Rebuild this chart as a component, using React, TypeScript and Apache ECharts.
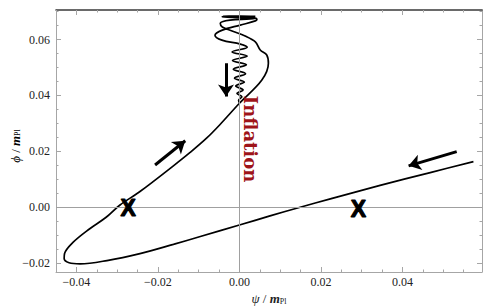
import React, { useEffect, useRef } from 'react';
import * as echarts from 'echarts';

// Trajectory (psi, phi) in units of m_Pl, in order of motion
const lowerBranch: number[][] = [
  [0.0574, 0.0163], [0.0468, 0.0124], [0.0345, 0.0078], [0.0223, 0.003], [0.0149, 0.0],
  [0.0075, -0.0031], [0.0002, -0.0063], [-0.0096, -0.0105], [-0.0162, -0.0133],
  [-0.0244, -0.0166], [-0.0325, -0.0191], [-0.0391, -0.0203],
];
const bottomLoop: number[][] = [
  [-0.0418, -0.0199], [-0.043, -0.0184], [-0.0429, -0.0166], [-0.0409, -0.0127],
  [-0.0368, -0.0078], [-0.0327, -0.0036], [-0.0293, 0.0008],
];
const upperBranch: number[][] = [
  [-0.0244, 0.0056], [-0.0162, 0.0148], [-0.0121, 0.0196], [-0.008, 0.0248], [-0.0047, 0.0297],
  [0.0, 0.0372], [0.0055, 0.0455], [0.0071, 0.0515], [0.0067, 0.0545], [0.0051, 0.0563],
];
const topArc: number[][] = [
  [0.0039, 0.0592], [0.0014, 0.0613], [-0.0018, 0.0631], [-0.0042, 0.0645], [-0.0047, 0.0659],
  [-0.0023, 0.067],
];
const topSpiral: number[][] = [
  [0.0026, 0.0674], [0.0041, 0.0677], [0.0002, 0.0679], [-0.0042, 0.0681], [-0.0003, 0.0683],
  [0.0039, 0.0683], [0.0002, 0.0684], [-0.0042, 0.0683], [0.0014, 0.0679], [0.0043, 0.0674],
  [0.0039, 0.0667],
];
const descent: number[][] = [
  [0.0002, 0.0652], [-0.0042, 0.0634], [-0.006, 0.0616], [-0.0043, 0.0598], [0.0002, 0.0584],
  [0.0019, 0.0573], [-0.0018, 0.0556], [0.0019, 0.0541], [-0.0017, 0.0525], [0.0017, 0.051],
  [-0.0015, 0.0494], [0.0015, 0.0478], [-0.0012, 0.0462], [0.0012, 0.0448], [-0.0009, 0.0434],
  [0.0009, 0.042], [-0.0006, 0.0407], [0.0006, 0.0395], [-0.0002, 0.0383], [0.0, 0.0373],
];

// Arrows (tail -> head)
const arrows: number[][][] = [
  [[0.0533, 0.0199], [0.0415, 0.0148]],
  [[-0.0207, 0.0151], [-0.0133, 0.0238]],
  [[-0.0033, 0.0515], [-0.0033, 0.0396]],
];
// Fixed-point markers
const xMarks: number[][] = [[-0.0273, -0.0004], [0.0292, -0.0006]];
const inflationLabel: number[] = [0.0026, 0.0244];

// Axes
const xRange = [-0.045, 0.0595];
const yRange = [-0.0232, 0.0706];
const xMajor = [-0.04, -0.02, 0, 0.02, 0.04];
const yMajor = [-0.02, 0, 0.02, 0.04, 0.06];
const xMinor = [-0.045, -0.035, -0.03, -0.025, -0.015, -0.01, -0.005, 0.005, 0.01, 0.015, 0.025, 0.03, 0.035, 0.045, 0.05, 0.055];
const yMinor = [-0.015, -0.01, -0.005, 0.005, 0.01, 0.015, 0.025, 0.03, 0.035, 0.045, 0.05, 0.055, 0.065, 0.07];

const fmt = (v: number) => (Math.abs(v) < 1e-9 ? '0.00' : v.toFixed(2).replace('-', '\u2212'));

const FRAME = '#a6a6a6';
const SERIF = '"Liberation Serif", "DejaVu Serif", serif';

export default function App() {
  const ref = useRef<HTMLDivElement>(null);
  useEffect(() => {
    if (!ref.current) return;
    const chart = echarts.init(ref.current, undefined, { renderer: 'svg' });
    const trajectory = [...lowerBranch, ...bottomLoop, ...upperBranch, ...topArc, ...topSpiral, ...descent];
    const nameRich = {
      i: { fontStyle: 'italic', fontFamily: SERIF, fontSize: 13, color: '#222' },
      m: { fontStyle: 'italic', fontWeight: 'bold', fontFamily: SERIF, fontSize: 13, color: '#222' },
      s: { fontFamily: SERIF, fontSize: 8, color: '#222', padding: [5, 0, 0, 0] },
      t: { fontFamily: SERIF, fontSize: 13, color: '#222' },
    };
    const majorAxis = (pos: string, labels: boolean, major: number[], range: number[], isX: boolean) => ({
      type: 'value',
      position: pos,
      offset: 0,
      min: range[0],
      max: range[1],
      axisLine: {
        show: true,
        onZero: false,
        lineStyle: { color: pos === 'top' ? '#3a3a3a' : FRAME, width: pos === 'top' ? 1.6 : 1 },
      },
      axisTick: { show: true, inside: true, length: 5, customValues: major, lineStyle: { color: FRAME } },
      axisLabel: labels
        ? { show: true, customValues: major, formatter: fmt, fontFamily: SERIF, fontSize: 12, color: '#222', margin: isX ? 4 : 6 }
        : { show: false },
      splitLine: { show: false },
    });
    const minorAxis = (pos: string, minor: number[], range: number[]) => ({
      type: 'value',
      position: pos,
      offset: 0,
      min: range[0],
      max: range[1],
      axisLine: { show: false, onZero: false },
      axisTick: { show: true, inside: true, length: 2.5, customValues: minor, lineStyle: { color: FRAME } },
      axisLabel: { show: false },
      splitLine: { show: false },
    });
    chart.setOption({
      animation: false,
      backgroundColor: '#ffffff',
      grid: { left: 56, right: 9, top: 10, bottom: 35, containLabel: false, outerBoundsMode: 'none' },
      graphic: [
        {
          type: 'text',
          x: 15,
          y: 146,
          rotation: Math.PI / 2,
          silent: true,
          style: {
            text: '{i|\u03d5}{t| / }{m|m}{s|Pl}',
            rich: nameRich,
            align: 'center',
            verticalAlign: 'middle',
          },
        },
      ],
      xAxis: [
        {
          ...majorAxis('bottom', true, xMajor, xRange, true),
          name: '{i|\u03c8}{t| / }{m|m}{s|Pl}',
          nameLocation: 'middle',
          nameGap: 20,
          nameMoveOverlap: false,
          nameTextStyle: { rich: nameRich },
        },
        minorAxis('bottom', xMinor, xRange),
        majorAxis('top', false, xMajor, xRange, true),
        minorAxis('top', xMinor, xRange),
      ],
      yAxis: [
        majorAxis('left', true, yMajor, yRange, false),
        minorAxis('left', yMinor, yRange),
        majorAxis('right', false, yMajor, yRange, false),
        minorAxis('right', yMinor, yRange),
      ],
      series: [
        {
          type: 'line',
          data: [[0, 0]],
          symbol: 'none',
          lineStyle: { width: 0 },
          silent: true,
          z: 1,
          markLine: {
            silent: true,
            symbol: ['none', 'none'],
            label: { show: false },
            lineStyle: { color: '#a0a0a0', type: 'solid', width: 1 },
            data: [{ xAxis: 0 }, { yAxis: 0 }],
          },
        },
        {
          type: 'line',
          data: trajectory,
          symbol: 'none',
          smooth: 0.35,
          lineStyle: { color: '#000', width: 1.7 },
          silent: true,
          z: 3,
        },
        {
          type: 'lines',
          coordinateSystem: 'cartesian2d',
          data: arrows.map((a) => ({ coords: a })),
          symbol: ['none', 'arrow'],
          symbolSize: 12,
          lineStyle: { color: '#000', width: 3, opacity: 1, curveness: 0 },
          silent: true,
          z: 4,
        },
        {
          type: 'scatter',
          data: xMarks,
          symbolSize: 1,
          itemStyle: { color: 'rgba(0,0,0,0)' },
          label: {
            show: true,
            position: 'inside',
            formatter: 'X',
            fontFamily: '"Liberation Sans", Arial, sans-serif',
            fontWeight: 'bold',
            fontSize: 23,
            color: '#000',
            textBorderColor: '#000',
            textBorderWidth: 1.2,
            opacity: 1,
          },
          silent: true,
          z: 5,
        },
        {
          type: 'scatter',
          data: [inflationLabel],
          symbolSize: 1,
          itemStyle: { color: 'rgba(0,0,0,0)' },
          label: {
            show: true,
            position: 'inside',
            formatter: 'Inflation',
            rotate: -90,
            fontFamily: '"DejaVu Serif", serif',
            fontWeight: 'bold',
            fontSize: 18,
            color: '#9e1419',
            textBorderWidth: 0,
            opacity: 1,
          },
          silent: true,
          z: 5,
        },
      ],
    });
    return () => chart.dispose();
  }, []);
  return <div ref={ref} style={{ width: 491, height: 307, position: 'absolute', left: 0, top: 0 }} />;
}
